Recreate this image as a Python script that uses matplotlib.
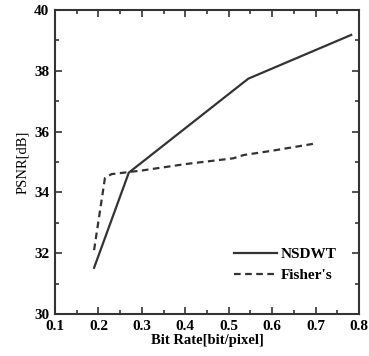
import matplotlib
matplotlib.use("Agg")
import matplotlib.pyplot as plt
from matplotlib.ticker import MultipleLocator

# Taxa de bits e PSNR para cada método
taxa_nsdwt = [0.19, 0.27, 0.545, 0.782]
psnr_nsdwt = [31.52, 34.65, 37.74, 39.18]

taxa_fisher = [0.19, 0.215, 0.23, 0.30, 0.40, 0.51, 0.535, 0.60, 0.70]
psnr_fisher = [32.1, 34.47, 34.6, 34.72, 34.93, 35.12, 35.23, 35.37, 35.61]

plt.rcParams['font.family'] = ['Liberation Serif', 'DejaVu Serif']

fig = plt.figure(figsize=(3.69, 3.56), dpi=100)
ax = fig.add_axes([0.149, 0.118, 0.824, 0.854])

cor = "#333333"
ax.plot(taxa_nsdwt, psnr_nsdwt, color=cor, lw=1.6, label="NSDWT")
ax.plot(taxa_fisher, psnr_fisher, color=cor, lw=1.6, ls=(0, (3, 2)), label="Fisher's")

ax.set_xlim(0.1, 0.8)
ax.set_ylim(30, 40)
ax.xaxis.set_major_locator(MultipleLocator(0.1))
ax.xaxis.set_minor_locator(MultipleLocator(0.05))
ax.yaxis.set_major_locator(MultipleLocator(2))
ax.yaxis.set_minor_locator(MultipleLocator(1))
ax.tick_params(which="both", direction="in", top=True, right=True, width=1.2, color=cor)
ax.tick_params(which="major", length=5, labelsize=11, pad=4)
ax.tick_params(which="minor", length=3)
for lbl in ax.get_xticklabels() + ax.get_yticklabels():
    lbl.set_fontweight("bold")
for s in ax.spines.values():
    s.set_linewidth(1.5)
    s.set_color(cor)

ax.set_xlabel("Bit Rate[bit/pixel]", fontsize=10.5, fontweight="bold", labelpad=1)
ax.set_ylabel("PSNR[dB]", fontsize=10.5, labelpad=4)

leg = ax.legend(loc="lower right", frameon=False, handlelength=2.8, handletextpad=0.2,
                labelspacing=0.45, bbox_to_anchor=(0.97, 0.06),
                prop={"size": 11, "weight": "bold"})

fig.savefig("out.png", dpi=100)
